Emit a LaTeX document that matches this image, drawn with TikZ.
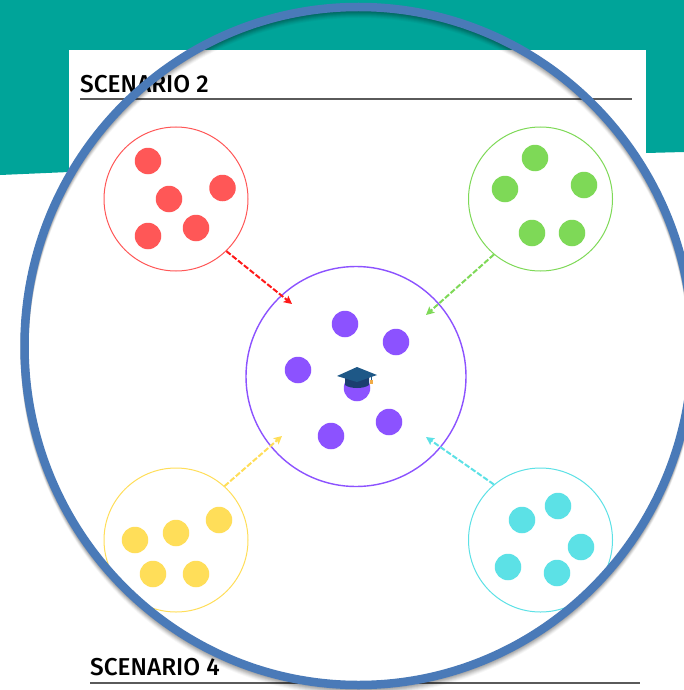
\documentclass[tikz,border=0pt]{standalone}
\usepackage{fontspec}
\setmainfont{Fira Sans}[UprightFont=* Medium]
\usetikzlibrary{arrows.meta}
\definecolor{teal1}{HTML}{00A499}
\definecolor{ringblue}{HTML}{4A7AB8}
\definecolor{cred}{HTML}{FF5757}
\definecolor{cgreen}{HTML}{7ED957}
\definecolor{cpurple}{HTML}{8C52FF}
\definecolor{cyellow}{HTML}{FFDE59}
\definecolor{ccyan}{HTML}{5CE1E6}
\definecolor{rulegray}{HTML}{5A5A5A}
\definecolor{capdark}{RGB}{27,62,112}
\definecolor{captop}{RGB}{30,88,135}
\definecolor{captassel}{RGB}{240,170,70}
\tikzset{
  group/.style={circle,draw=#1,fill=white,line width=1pt,minimum size=144pt,inner sep=0pt},
  dot/.style={circle,fill=#1,minimum size=26.5pt,inner sep=0pt},
  flow/.style={draw=#1,line width=2pt,dash pattern=on 5.5pt off 2pt,-{Stealth[length=8pt,width=8pt,inset=1.5pt]}},
  title/.style={anchor=base west,inner sep=0pt,font=\fontsize{24.4}{26}\selectfont,text=black},
  sectionrule/.style={draw=rulegray,line width=1.3pt}
}
\begin{document}
\begin{tikzpicture}[x=1pt,y=-1pt]
\useasboundingbox (0,0) rectangle (684,690);
\clip (0,0) rectangle (684,690);
\fill[white] (0,0) rectangle (684,690);
\fill[teal1] (0,0) -- (684,0) -- (684,152) -- (646,153) -- (69,172) -- (0,175) -- cycle;
\fill[white] (69,50) rectangle (646,300);

\node[title] (t2) at (80,92.5) {SCENARIO 2};
\node[title] (t4) at (90,675.5) {SCENARIO 4};
\coordinate (r2a) at (80,99); \coordinate (r2b) at (632,99);
\coordinate (r4a) at (90,683); \coordinate (r4b) at (640,683);
\draw[sectionrule] (r2a) -- (r2b);
\draw[sectionrule] (r4a) -- (r4b);

\node[group=cred] (red) at (176,199) {};
\node[group=cgreen] (green) at (540.5,199) {};
\node[group=cyellow] (yellow) at (176,540) {};
\node[group=ccyan] (cyan) at (540.5,540) {};
\node[group=cpurple,minimum size=220pt,line width=1.4pt] (purple) at (356,376.5) {};

\foreach \n/\p in {r1/{148,161},r2/{222.5,188},r3/{169,199},r4/{196,228},r5/{148,236}}
  \node[dot=cred] (\n) at (\p) {};
\foreach \n/\p in {g1/{535,158},g2/{584,185},g3/{505,189},g4/{532,233},g5/{572,233}}
  \node[dot=cgreen] (\n) at (\p) {};
\foreach \n/\p in {p1/{345,324},p2/{396,342},p3/{298,370},p4/{357,388},p5/{389,422},p6/{331,436}}
  \node[dot=cpurple] (\n) at (\p) {};
\foreach \n/\p in {y1/{219,520},y2/{176,533},y3/{135,540},y4/{153,574},y5/{196,574}}
  \node[dot=cyellow] (\n) at (\p) {};
\foreach \n/\p in {c1/{558,506},c2/{522,520},c3/{581,547},c4/{508,567},c5/{557,573}}
  \node[dot=ccyan] (\n) at (\p) {};

\coordinate (ea) at (292,304);
\coordinate (eb) at (426,315);
\coordinate (ec) at (282,436);
\coordinate (ed) at (426,437);
\draw[flow={red!90!white}] (red.-46) -- (ea);
\draw[flow=cgreen] (green.-130) -- (eb);
\draw[flow=cyellow] (yellow.48) -- (ec);
\draw[flow=ccyan] (cyan.130) -- (ed);

% graduation cap
\fill[capdark] (345,375) -- (345,385) .. controls (350,389) and (364,389) .. (369,385) -- (369,375) -- cycle;
\fill[captop] (337,376) -- (357,367) -- (377,375) -- (357,382) -- cycle;
\draw[captop,line width=0.7pt] (371,377) -- (371,381);
\fill[captassel] (369.5,380) rectangle (372.5,384);

% ring shadow and ring
\foreach \o/\a in {1/.07,2/.07,3/.07,4/.06,5/.05,6/.04,7/.03}
  \draw[black,opacity=\a,line width=8pt] (358.5,346+\o) ellipse [x radius=334,y radius=339];
\draw[ringblue,line width=8.5pt] (358.5,346) ellipse [x radius=334,y radius=339];
\end{tikzpicture}
\end{document}
